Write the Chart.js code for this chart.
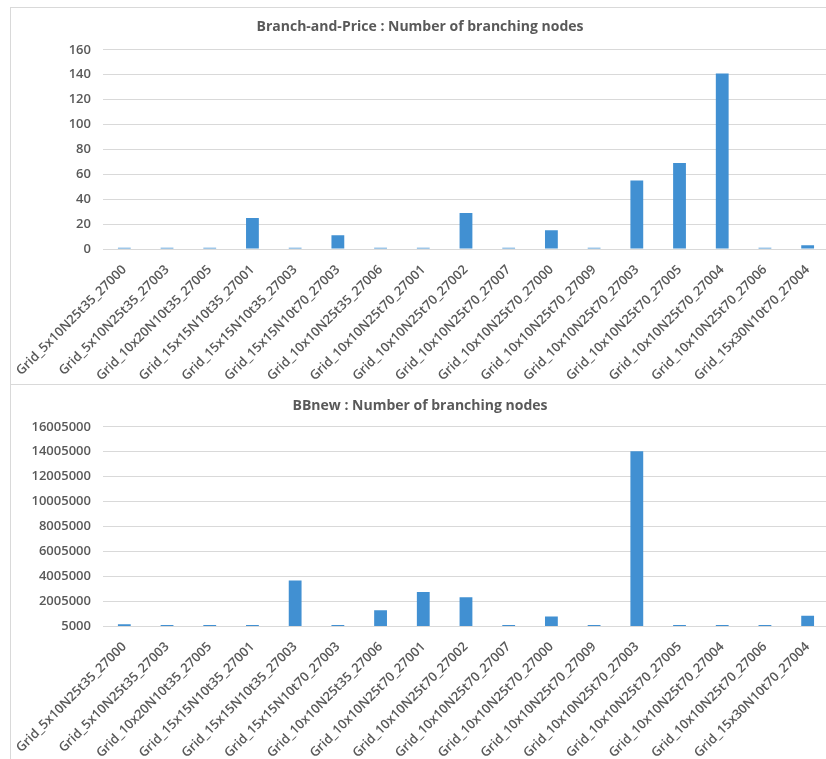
<!DOCTYPE html>
<html>
<head>
<meta charset="utf-8">
<script src="https://cdn.jsdelivr.net/npm/chart.js@4.4.1/dist/chart.umd.min.js"></script>
<style>
  html, body { margin: 0; padding: 0; background: #ffffff; overflow: hidden; width: 826px; height: 759px; }
  .panel { position: absolute; left: 10px; width: 840px; border: 1px solid #d9d9d9; background: #fff; }
  #p1 { top: 7px; height: 376px; }
  #p2 { top: 384px; height: 390px; }
  canvas { display: block; }
</style>
</head>
<body>
<div class="panel" id="p1"><canvas id="c1" width="830" height="376"></canvas></div>
<div class="panel" id="p2"><canvas id="c2" width="830" height="376"></canvas></div>
<script>
const instances = [
  'Grid_5x10N25t35_27000', 'Grid_5x10N25t35_27003', 'Grid_10x20N10t35_27005',
  'Grid_15x15N10t35_27001', 'Grid_15x15N10t35_27003', 'Grid_15x15N10t70_27003',
  'Grid_10x10N25t35_27006', 'Grid_10x10N25t70_27001', 'Grid_10x10N25t70_27002',
  'Grid_10x10N25t70_27007', 'Grid_10x10N25t70_27000', 'Grid_10x10N25t70_27009',
  'Grid_10x10N25t70_27003', 'Grid_10x10N25t70_27005', 'Grid_10x10N25t70_27004',
  'Grid_10x10N25t70_27006', 'Grid_15x30N10t70_27004'
];

const branchAndPriceNodes = [1, 1, 1, 25, 1, 11, 1, 1, 29, 1, 15, 1, 55, 69, 141, 1, 3];

const bbnewNodes = [
  140000, 80000, 80000, 80000, 3650000, 80000, 1280000, 2740000, 2320000,
  80000, 775000, 80000, 14050000, 80000, 80000, 80000, 830000
];

const bpTicks = [0, 20, 40, 60, 80, 100, 120, 140, 160];
const bbTicks = [5000, 2005000, 4005000, 6005000, 8005000, 10005000, 12005000, 14005000, 16005000];

const FONT = "'Open Sans', 'Liberation Sans', sans-serif";
const GREY = '#595959';
const BAR = '#4190d2';

function makeChart(canvasId, title, values, tickValues, titlePad) {
  return new Chart(document.getElementById(canvasId), {
    type: 'bar',
    data: {
      labels: instances,
      datasets: [{
        data: values,
        backgroundColor: BAR,
        borderWidth: 0,
        barPercentage: 0.3,
        categoryPercentage: 1.0
      }]
    },
    options: {
      responsive: false,
      devicePixelRatio: 1,
      animation: false,
      layout: { padding: { left: 0, right: 12, top: 0, bottom: 0 } },
      plugins: {
        legend: { display: false },
        tooltip: { enabled: false },
        title: {
          display: true,
          text: title,
          color: GREY,
          font: { family: FONT, size: 14, weight: 'bold' },
          padding: titlePad
        }
      },
      scales: {
        x: {
          grid: { display: false },
          border: { display: false },
          ticks: {
            autoSkip: false,
            maxRotation: 45,
            minRotation: 45,
            padding: 5,
            color: GREY,
            font: { family: FONT, size: 13, weight: '600' }
          },
          afterFit: (scale) => { scale.height = 135; }
        },
        y: {
          min: tickValues[0],
          max: tickValues[tickValues.length - 1],
          afterBuildTicks: (scale) => { scale.ticks = tickValues.map(v => ({ value: v })); },
          grid: { color: '#d9d9d9', lineWidth: 1, drawTicks: false },
          border: { display: false },
          ticks: {
            padding: 12,
            color: GREY,
            font: { family: FONT, size: 13, weight: '600' },
            callback: (v) => String(v)
          },
          afterFit: (scale) => { scale.width = 89; }
        }
      }
    }
  });
}

makeChart('c1', 'Branch-and-Price : Number of branching nodes', branchAndPriceNodes, bpTicks, { top: 11, bottom: 14 });
makeChart('c2', 'BBnew : Number of branching nodes', bbnewNodes, bbTicks, { top: 13, bottom: 12 });
</script>
</body>
</html>
